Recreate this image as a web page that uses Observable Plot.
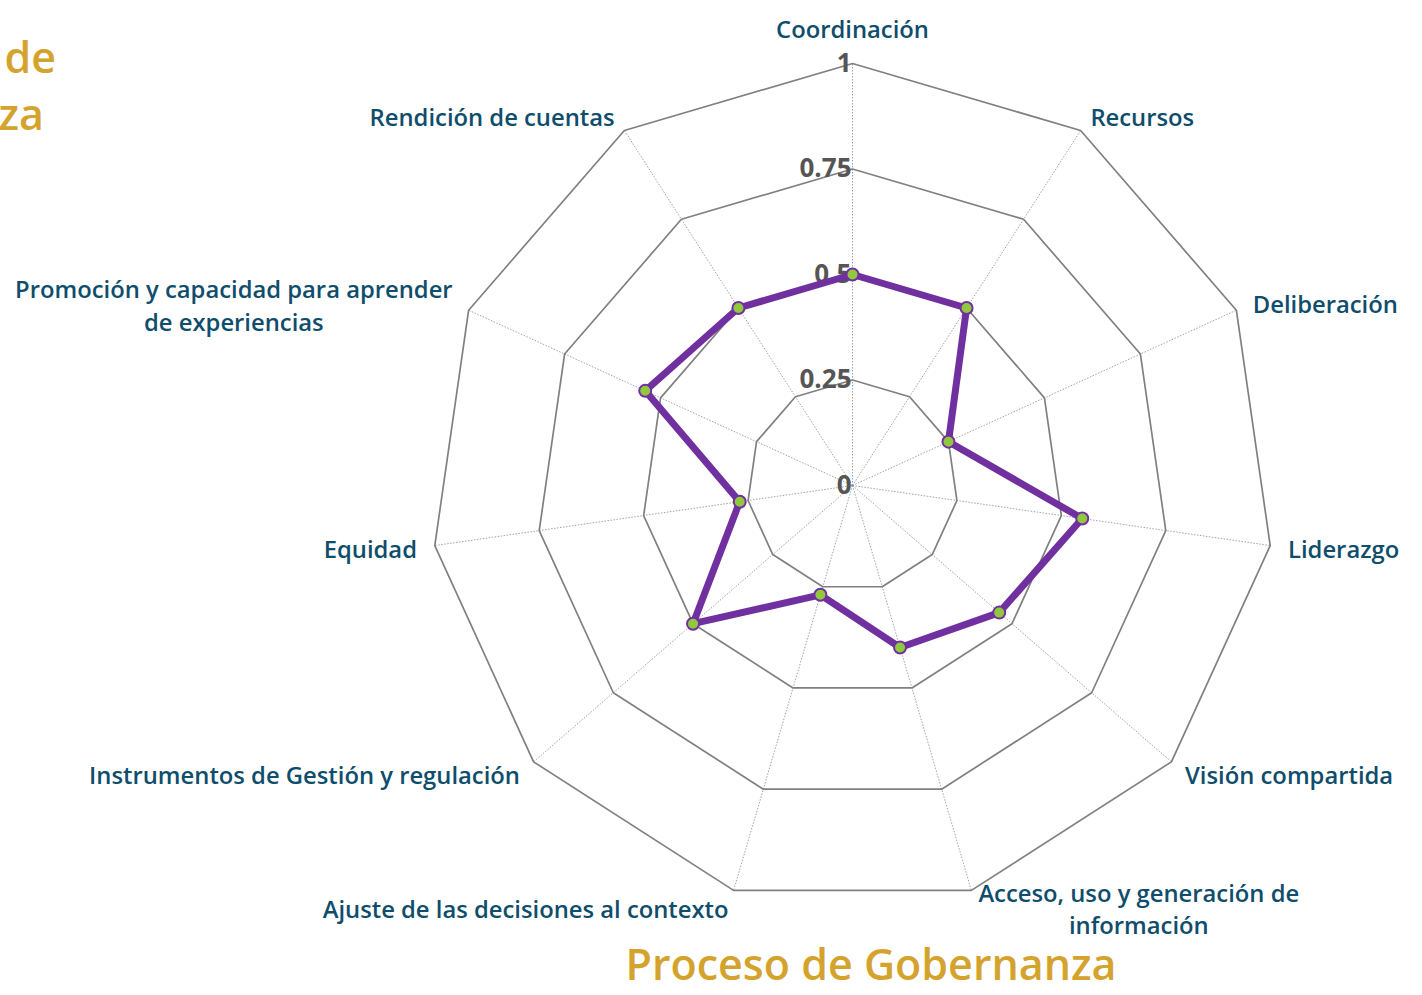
<!DOCTYPE html>
<html><head><meta charset="utf-8">
<script src="https://cdn.jsdelivr.net/npm/d3@7"></script>
<script src="https://cdn.jsdelivr.net/npm/@observablehq/plot@0.6"></script>
<style>
html,body{margin:0;padding:0;background:#fff;overflow:hidden;}
#wrap{position:relative;width:1422px;height:995px;overflow:hidden;}
#wrap svg{position:absolute;left:0;top:0;}
.t{position:absolute;font-family:'Open Sans',sans-serif;font-weight:600;color:#d4a32e;font-size:43px;white-space:nowrap;line-height:1;}
</style></head><body><div id="wrap"></div>
<script>
// ---- data ----
const categories = [
  "Coordinación",
  "Recursos",
  "Deliberación",
  "Liderazgo",
  "Visión compartida",
  "Acceso, uso y generación de\ninformación",
  "Ajuste de las decisiones al contexto",
  "Instrumentos de Gestión y regulación",
  "Equidad",
  "Promoción y capacidad para aprender\nde experiencias",
  "Rendición de cuentas"
];
const values = [0.50, 0.50, 0.25, 0.55, 0.46, 0.40, 0.27, 0.50, 0.27, 0.54, 0.50];
const levels = [0.25, 0.5, 0.75, 1];
const tickValues = [0, 0.25, 0.5, 0.75, 1];
const tickLabels = ["0", "0.25", "0.5", "0.75", "1"];
const titleText = "Proceso de Gobernanza";
const sideTitleLines = ["Proceso de", "Gobernanza"];

// ---- layout ----
const W = 1422, H = 995, cx = 852, cy = 485, R = 422;
const labelFont = 23.8, labelFamily = "'Open Sans', sans-serif";
const N = categories.length;
const ang = i => 2 * Math.PI * i / N;
const px = (i, r) => r * Math.sin(ang(i));
const py = (i, r) => r * Math.cos(ang(i));

const rings = levels.flatMap(l => d3.range(N + 1).map(k => ({level: l, x: px(k % N, l), y: py(k % N, l)})));
const spokes = categories.map((c, i) => ({x1: 0, y1: 0, x2: px(i, 1), y2: py(i, 1)}));
const series = d3.range(N + 1).map(k => ({x: px(k % N, values[k % N]), y: py(k % N, values[k % N])}));
const pts = values.map((v, i) => ({x: px(i, v), y: py(i, v)}));
const ticks = tickValues.map((v, i) => ({v, label: tickLabels[i]}));

const ctx = document.createElement("canvas").getContext("2d");
ctx.font = `600 ${labelFont}px ${labelFamily}`;
const textW = s => Math.max(...s.split("\n").map(l => ctx.measureText(l).width));

const labelMarks = categories.map((c, i) => {
  const s = Math.sin(ang(i)), co = Math.cos(ang(i));
  const d = [{x: px(i, 1), y: py(i, 1), text: c}];
  const multi = c.includes("\n");
  let o = {textAnchor: "middle", lineAnchor: "middle", dx: 0, dy: 0};
  if (Math.abs(s) < 0.05) { o.dy = -36; }
  else if (multi) {
    const w = textW(c);
    o.dx = s > 0 ? 7 + w / 2 : -(16 + w / 2);
    o.dy = s > 0 ? 17 : -6;
  } else {
    o.textAnchor = s > 0 ? "start" : "end";
    o.dx = 18 * s; o.dy = -18 * co;
  }
  return Plot.text(d, {x: "x", y: "y", text: "text", ...o, fontSize: labelFont, fontWeight: 600,
    fontFamily: labelFamily, fill: "#0f4d6c", lineHeight: 1.36});
});

const chart = Plot.plot({
  width: W, height: H, margin: 0,
  x: {domain: [-cx / R, (W - cx) / R], axis: null},
  y: {domain: [-(H - cy) / R, cy / R], axis: null},
  style: {background: "transparent", overflow: "visible"},
  marks: [
    Plot.link(spokes, {x1: "x1", y1: "y1", x2: "x2", y2: "y2", stroke: "#8a8a8a", strokeWidth: 0.8, strokeDasharray: "1.5,1.5"}),
    Plot.line(rings, {x: "x", y: "y", z: "level", stroke: "#808080", strokeWidth: 1.7}),
    Plot.text(ticks, {x: d => 0, y: "v", text: "label", textAnchor: "end", lineAnchor: "middle", dx: -1,
      fontSize: 26, fontWeight: 700, fontFamily: labelFamily, fill: "#555555"}),
    Plot.line(series, {x: "x", y: "y", stroke: "#7030a0", strokeWidth: 7, strokeLinejoin: "round"}),
    Plot.dot(pts, {x: "x", y: "y", r: 6, fill: "#92c83e", stroke: "#7030a0", strokeWidth: 2}),
    ...labelMarks
  ]
});
const wrap = document.getElementById("wrap");
wrap.appendChild(chart);

function addTitle(text, style) {
  const d = document.createElement("div");
  d.className = "t";
  d.textContent = text;
  Object.assign(d.style, style);
  wrap.appendChild(d);
}
addTitle(titleText, {left: "0", width: "1742px", textAlign: "center", top: "942px"});
addTitle(sideTitleLines[0], {right: (W - 56) + "px", top: "35px", textAlign: "right"});
addTitle(sideTitleLines[1], {right: (W - 44) + "px", top: "92px", textAlign: "right"});
</script>
</body></html>
